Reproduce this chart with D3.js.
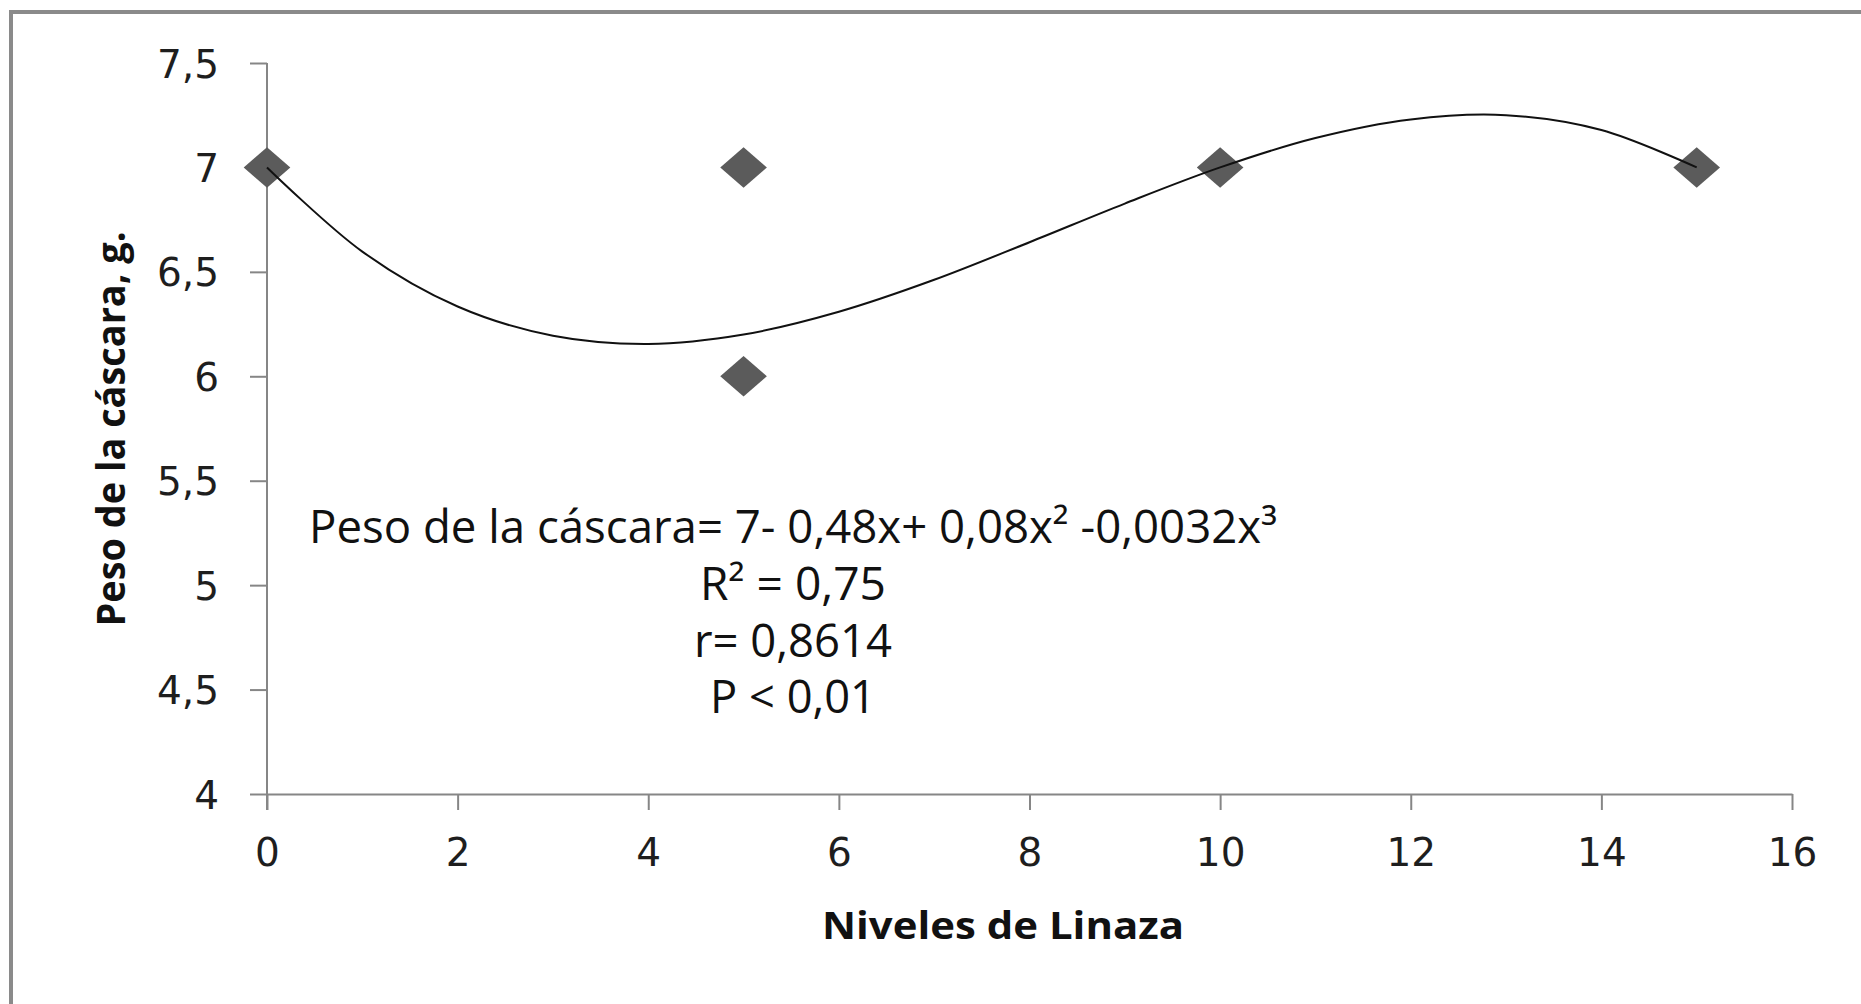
<!DOCTYPE html>
<html>
<head>
<meta charset="utf-8">
<script src="https://cdn.jsdelivr.net/npm/d3@7"></script>
<style>
  html, body { margin: 0; padding: 0; background: #fff; }
  svg { display: block; }
</style>
</head>
<body>
<svg id="chart" width="1861" height="1004"></svg>
<script>
// ---- data ----
const pointX = [0, 5, 5, 10, 15];
const pointY = [7, 7, 6, 7, 7];
// fitted trend line (matches printed equation)
const trendX = [0, 1, 2, 3, 4, 5, 6, 7, 8, 9, 10, 11, 12, 13, 14, 15];
const trendY = [7.0, 6.597, 6.334, 6.194, 6.155, 6.2, 6.309, 6.462, 6.642, 6.827, 7.0, 7.141, 7.23, 7.25, 7.179, 7.0];
const xTicks = [0, 2, 4, 6, 8, 10, 12, 14, 16];
const yTicks = [4, 4.5, 5, 5.5, 6, 6.5, 7, 7.5];
const xTitle = "Niveles de Linaza";
const yTitle = "Peso de la cáscara, g.";
const annotation = [
  "Peso de la cáscara= 7- 0,48x+ 0,08x² -0,0032x³",
  "R² = 0,75",
  "r= 0,8614",
  "P < 0,01"
];

// ---- drawing ----
const svg = d3.select("#chart");
const x = d3.scaleLinear().domain([0, 16]).range([267, 1792]);
const y = d3.scaleLinear().domain([4, 7.5]).range([794, 63]);
const axisColor = "#868686";
const fmt = d => d3.format(".1~f")(d).replace(".", ",");

// outer frame (top and left visible)
svg.append("line").attr("x1", 9).attr("x2", 1861).attr("y1", 12).attr("y2", 12)
  .attr("stroke", "#8a8a8a").attr("stroke-width", 4);
svg.append("line").attr("x1", 11).attr("x2", 11).attr("y1", 10).attr("y2", 1004)
  .attr("stroke", "#8a8a8a").attr("stroke-width", 4);

// x axis
const gx = svg.append("g").attr("transform", `translate(0,${y(4)})`)
  .call(d3.axisBottom(x).tickValues(xTicks).tickSize(16).tickSizeOuter(0).tickPadding(28).tickFormat(d => d));
// y axis
const gy = svg.append("g").attr("transform", `translate(${x(0)},0)`)
  .call(d3.axisLeft(y).tickValues(yTicks).tickSize(17).tickSizeOuter(0).tickPadding(31).tickFormat(fmt));

[gx, gy].forEach(g => {
  g.select(".domain").attr("stroke", axisColor).attr("stroke-width", 2);
  g.selectAll(".tick line").attr("stroke", axisColor).attr("stroke-width", 2);
  g.selectAll(".tick text").attr("font-family", "'DejaVu Sans', Verdana, sans-serif")
    .attr("font-size", 39).attr("fill", "#1e1e1e");
});
gx.selectAll(".tick text").attr("dy", "0.71em");
gy.selectAll(".tick text").attr("dy", "0.36em");
// extend y axis down to the x tick length
gy.select(".domain").attr("d", `M0,${y(7.5)}V${y(4) + 16}`);

// points
const pts = pointX.map((v, i) => ({ x: v, y: pointY[i] }));
svg.append("g").selectAll("path").data(pts).join("path")
  .attr("d", d3.symbol(d3.symbolSquare, 950))
  .attr("transform", d => `translate(${x(d.x)},${y(d.y)}) scale(1.07,0.93) rotate(45)`)
  .attr("fill", "#5b5b5b");

// trend line
const trend = trendX.map((v, i) => [v, trendY[i]]);
svg.append("path").datum(trend)
  .attr("d", d3.line().x(d => x(d[0])).y(d => y(d[1])).curve(d3.curveCatmullRom))
  .attr("fill", "none").attr("stroke", "#111").attr("stroke-width", 2);

// annotation text
const annFont = "'Open Sans', 'Noto Sans', sans-serif";
const annBaselines = [543, 600, 657, 713];
const annWidths = [968, 186, 198, 166];
annotation.forEach((t, i) => {
  svg.append("text").attr("x", 793).attr("y", annBaselines[i])
    .attr("text-anchor", "middle").attr("font-family", annFont).attr("font-size", 45)
    .attr("fill", "#111")
    .attr("textLength", annWidths[i]).attr("lengthAdjust", "spacingAndGlyphs")
    .text(t);
});

// axis titles
svg.append("text").attr("x", 1003).attr("y", 939)
  .attr("text-anchor", "middle").attr("font-family", annFont).attr("font-weight", "bold")
  .attr("font-size", 38).attr("fill", "#111")
  .attr("textLength", 362).attr("lengthAdjust", "spacingAndGlyphs")
  .text(xTitle);

svg.append("text").attr("transform", "translate(125,429) rotate(-90)")
  .attr("text-anchor", "middle").attr("font-family", annFont).attr("font-weight", "bold")
  .attr("font-size", 40).attr("fill", "#111")
  .attr("textLength", 395).attr("lengthAdjust", "spacingAndGlyphs")
  .text(yTitle);
</script>
</body>
</html>
